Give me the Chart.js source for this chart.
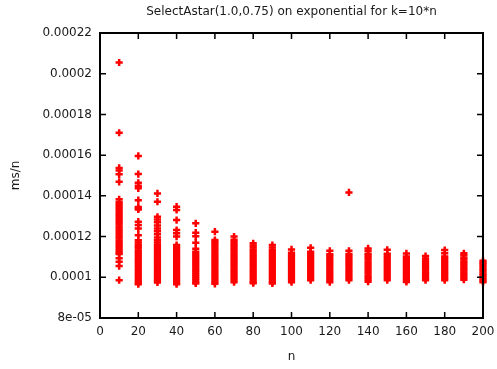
<!DOCTYPE html>
<html>
<head>
<meta charset="utf-8">
<script src="https://cdn.jsdelivr.net/npm/chart.js@4.4.1/dist/chart.umd.min.js"></script>
<style>
  body { margin: 0; background: #fff; }
  #wrap { width: 497px; height: 369px; }
</style>
</head>
<body>
<div id="wrap"><canvas id="myChart" width="497" height="369"></canvas></div>
<script>
// x positions of the measured columns
const nValues = [10, 20, 30, 40, 50, 60, 70, 80, 90, 100, 110, 120, 130, 140, 150, 160, 170, 180, 190, 200];

// ms/n readings, one list per n
const ms10 = [205.5e-6, 171.0e-6, 153.7e-6, 152.5e-6, 150.6e-6, 146.9e-6, 138.3e-6, 137.0e-6, 136.0e-6, 135.0e-6, 134.0e-6, 133.0e-6, 132.0e-6, 131.0e-6, 130.0e-6, 129.0e-6, 128.0e-6, 127.0e-6, 126.0e-6, 125.0e-6, 124.0e-6, 123.0e-6, 122.0e-6, 121.0e-6, 120.0e-6, 119.0e-6, 118.0e-6, 117.0e-6, 116.0e-6, 115.0e-6, 114.0e-6, 113.0e-6, 112.0e-6, 111.5e-6, 109.3e-6, 107.6e-6, 105.5e-6, 98.6e-6];
const ms20 = [159.6e-6, 150.7e-6, 146.4e-6, 145.0e-6, 143.7e-6, 137.9e-6, 134.5e-6, 133.9e-6, 133.3e-6, 127.3e-6, 125.7e-6, 124.0e-6, 120.7e-6, 118.2e-6, 117.1e-6, 116.0e-6, 115.0e-6, 114.1e-6, 113.0e-6, 112.0e-6, 111.1e-6, 110.0e-6, 109.0e-6, 108.0e-6, 107.1e-6, 106.0e-6, 105.0e-6, 104.0e-6, 103.0e-6, 102.0e-6, 101.0e-6, 100.0e-6, 99.0e-6, 98.0e-6, 97.2e-6, 96.6e-6];
const ms30 = [141.2e-6, 137.1e-6, 129.7e-6, 128.4e-6, 127.0e-6, 125.5e-6, 124.0e-6, 122.6e-6, 121.1e-6, 119.6e-6, 118.2e-6, 117.1e-6, 116.0e-6, 115.0e-6, 114.0e-6, 113.0e-6, 112.0e-6, 111.0e-6, 110.0e-6, 109.0e-6, 108.0e-6, 107.0e-6, 106.0e-6, 105.0e-6, 104.0e-6, 103.0e-6, 102.0e-6, 101.0e-6, 100.0e-6, 99.0e-6, 98.2e-6, 97.5e-6];
const ms40 = [134.7e-6, 133.1e-6, 128.1e-6, 123.2e-6, 121.6e-6, 120.0e-6, 115.8e-6, 115.0e-6, 114.0e-6, 113.0e-6, 112.0e-6, 111.0e-6, 110.0e-6, 109.0e-6, 108.0e-6, 107.0e-6, 106.0e-6, 105.0e-6, 104.0e-6, 103.0e-6, 102.0e-6, 101.0e-6, 100.0e-6, 99.0e-6, 98.0e-6, 97.2e-6, 96.6e-6];
const ms50 = [126.5e-6, 121.9e-6, 120.2e-6, 117.0e-6, 114.0e-6, 112.6e-6, 111.5e-6, 110.5e-6, 109.5e-6, 108.5e-6, 107.5e-6, 106.5e-6, 105.5e-6, 104.5e-6, 103.5e-6, 102.5e-6, 101.5e-6, 100.5e-6, 99.5e-6, 98.5e-6, 97.6e-6, 97.0e-6];
const ms60 = [122.4e-6, 118.3e-6, 117.4e-6, 116.5e-6, 115.5e-6, 114.5e-6, 113.5e-6, 112.5e-6, 111.5e-6, 110.5e-6, 109.5e-6, 108.5e-6, 107.5e-6, 106.5e-6, 105.5e-6, 104.5e-6, 103.5e-6, 102.5e-6, 101.5e-6, 100.5e-6, 99.5e-6, 98.5e-6, 97.6e-6, 96.8e-6];
const ms70 = [120.0e-6, 118.5e-6, 117.4e-6, 116.4e-6, 115.5e-6, 114.5e-6, 113.5e-6, 112.5e-6, 111.5e-6, 110.5e-6, 109.5e-6, 108.5e-6, 107.5e-6, 106.5e-6, 105.5e-6, 104.5e-6, 103.5e-6, 102.5e-6, 101.5e-6, 100.5e-6, 99.5e-6, 98.5e-6, 97.6e-6];
const ms80 = [116.7e-6, 115.6e-6, 114.6e-6, 113.5e-6, 112.5e-6, 111.5e-6, 110.5e-6, 109.5e-6, 108.5e-6, 107.5e-6, 106.5e-6, 105.5e-6, 104.5e-6, 103.5e-6, 102.5e-6, 101.5e-6, 100.5e-6, 99.5e-6, 98.5e-6, 97.6e-6, 97.1e-6];
const ms90 = [115.8e-6, 114.6e-6, 113.4e-6, 112.4e-6, 111.5e-6, 110.5e-6, 109.5e-6, 108.5e-6, 107.5e-6, 106.5e-6, 105.5e-6, 104.5e-6, 103.5e-6, 102.5e-6, 101.5e-6, 100.5e-6, 99.5e-6, 98.5e-6, 97.6e-6, 97.0e-6];
const ms100 = [113.7e-6, 112.1e-6, 111.1e-6, 110.2e-6, 109.3e-6, 108.4e-6, 107.5e-6, 106.6e-6, 105.7e-6, 104.8e-6, 103.9e-6, 103.0e-6, 102.1e-6, 101.2e-6, 100.3e-6, 99.4e-6, 98.5e-6, 97.6e-6];
const ms110 = [114.5e-6, 112.6e-6, 111.5e-6, 110.5e-6, 109.5e-6, 108.5e-6, 107.5e-6, 106.5e-6, 105.5e-6, 104.5e-6, 103.5e-6, 102.5e-6, 101.5e-6, 100.5e-6, 99.5e-6, 98.6e-6];
const ms120 = [113.0e-6, 111.3e-6, 110.4e-6, 109.5e-6, 108.5e-6, 107.5e-6, 106.5e-6, 105.5e-6, 104.5e-6, 103.5e-6, 102.5e-6, 101.5e-6, 100.5e-6, 99.5e-6, 98.5e-6, 97.6e-6];
const ms130 = [141.7e-6, 113.0e-6, 111.5e-6, 110.5e-6, 109.5e-6, 108.5e-6, 107.5e-6, 106.5e-6, 105.5e-6, 104.5e-6, 103.5e-6, 102.5e-6, 101.5e-6, 100.5e-6, 99.5e-6, 98.6e-6];
const ms140 = [114.2e-6, 113.0e-6, 111.6e-6, 110.8e-6, 109.8e-6, 108.8e-6, 107.8e-6, 106.8e-6, 105.8e-6, 104.8e-6, 103.8e-6, 102.8e-6, 101.8e-6, 100.8e-6, 99.8e-6, 98.8e-6, 97.8e-6];
const ms150 = [113.5e-6, 111.6e-6, 110.6e-6, 109.6e-6, 108.6e-6, 107.6e-6, 106.6e-6, 105.6e-6, 104.6e-6, 103.6e-6, 102.6e-6, 101.6e-6, 100.6e-6, 99.6e-6, 98.6e-6];
const ms160 = [111.7e-6, 110.2e-6, 109.3e-6, 108.4e-6, 107.5e-6, 106.6e-6, 105.7e-6, 104.8e-6, 103.9e-6, 103.0e-6, 102.1e-6, 101.2e-6, 100.3e-6, 99.4e-6, 98.5e-6, 97.7e-6];
const ms170 = [110.4e-6, 109.2e-6, 108.3e-6, 107.4e-6, 106.5e-6, 105.6e-6, 104.7e-6, 103.8e-6, 102.9e-6, 102.0e-6, 101.1e-6, 100.2e-6, 99.3e-6, 98.6e-6];
const ms180 = [113.4e-6, 111.8e-6, 110.2e-6, 109.3e-6, 108.4e-6, 107.5e-6, 106.6e-6, 105.7e-6, 104.8e-6, 103.9e-6, 103.0e-6, 102.1e-6, 101.2e-6, 100.3e-6, 99.4e-6, 98.6e-6];
const ms190 = [111.8e-6, 110.8e-6, 109.6e-6, 108.7e-6, 107.8e-6, 106.9e-6, 106.0e-6, 105.1e-6, 104.2e-6, 103.3e-6, 102.4e-6, 101.5e-6, 100.6e-6, 99.7e-6, 98.8e-6];
const ms200 = [108.1e-6, 107.3e-6, 106.4e-6, 105.5e-6, 104.6e-6, 103.7e-6, 102.8e-6, 101.9e-6, 101.0e-6, 100.1e-6, 99.2e-6, 98.3e-6, 97.6e-6];

const msPerN = [ms10, ms20, ms30, ms40, ms50, ms60, ms70, ms80, ms90, ms100,
                ms110, ms120, ms130, ms140, ms150, ms160, ms170, ms180, ms190, ms200];

// axis ticks
const xTickValues = [0, 20, 40, 60, 80, 100, 120, 140, 160, 180, 200];
const xTickLabels = ['0', '20', '40', '60', '80', '100', '120', '140', '160', '180', '200'];
const yTickValues = [8e-5, 1e-4, 1.2e-4, 1.4e-4, 1.6e-4, 1.8e-4, 2e-4, 2.2e-4];
const yTickLabels = ['8e-05', '0.0001', '0.00012', '0.00014', '0.00016', '0.00018', '0.0002', '0.00022'];

const points = [];
nValues.forEach((n, i) => {
  msPerN[i].forEach(v => points.push({ x: n, y: v }));
});

const textColor = '#1a1a1a';
const fontFamily = '"DejaVu Sans", sans-serif';

// gnuplot style box with inward ticks on all sides
const gnuplotFrame = {
  id: 'gnuplotFrame',
  afterDatasetsDraw(chart) {
    const { ctx, chartArea: a, scales: { x, y } } = chart;
    const len = 6;
    ctx.save();
    ctx.strokeStyle = '#000';
    ctx.lineWidth = 1.5;
    ctx.beginPath();
    xTickValues.forEach(v => {
      const px = x.getPixelForValue(v);
      ctx.moveTo(px, a.bottom); ctx.lineTo(px, a.bottom - len);
      ctx.moveTo(px, a.top); ctx.lineTo(px, a.top + len);
    });
    yTickValues.forEach(v => {
      const py = y.getPixelForValue(v);
      ctx.moveTo(a.left, py); ctx.lineTo(a.left + len, py);
      ctx.moveTo(a.right, py); ctx.lineTo(a.right - len, py);
    });
    ctx.stroke();
    ctx.lineWidth = 2;
    ctx.strokeRect(a.left, a.top, a.right - a.left, a.bottom - a.top);
    ctx.restore();
  }
};

const ctx = document.getElementById('myChart');
new Chart(ctx, {
  type: 'scatter',
  data: {
    datasets: [{
      label: 'SelectAstar',
      data: points,
      pointStyle: 'cross',
      pointRadius: 3.6,
      pointHoverRadius: 3.6,
      borderColor: '#ff0000',
      backgroundColor: '#ff0000',
      borderWidth: 2.5,
      clip: false
    }]
  },
  options: {
    responsive: false,
    animation: false,
    events: [],
    layout: { padding: { top: 0, right: 14, bottom: 0, left: 0 } },
    plugins: {
      legend: { display: false },
      tooltip: { enabled: false },
      title: {
        display: true,
        fullSize: false,
        text: 'SelectAstar(1.0,0.75) on exponential for k=10*n',
        color: textColor,
        font: { family: fontFamily, size: 12, weight: 'normal', lineHeight: 1.2 },
        padding: { top: 5, bottom: 13.6 }
      }
    },
    scales: {
      x: {
        type: 'linear',
        min: 0,
        max: 200,
        afterBuildTicks: scale => { scale.ticks = xTickValues.map(v => ({ value: v })); },
        afterFit: scale => { scale.height = 51; scale.paddingLeft = 0; scale.paddingRight = 0; },
        grid: { display: false, drawTicks: false },
        border: { display: false },
        ticks: {
          color: textColor,
          font: { family: fontFamily, size: 12 },
          padding: 7,
          maxRotation: 0,
          callback: (v, i) => xTickLabels[i]
        },
        title: {
          display: true,
          text: 'n',
          color: textColor,
          font: { family: fontFamily, size: 12, lineHeight: 1.2 },
          padding: { top: 0, bottom: 5 }
        }
      },
      y: {
        type: 'linear',
        min: 8e-5,
        max: 2.2e-4,
        afterBuildTicks: scale => { scale.ticks = yTickValues.map(v => ({ value: v })); },
        afterFit: scale => { scale.width = 100; scale.paddingTop = 0; scale.paddingBottom = 0; },
        grid: { display: false, drawTicks: false },
        border: { display: false },
        ticks: {
          color: textColor,
          font: { family: fontFamily, size: 12 },
          padding: 8,
          callback: (v, i) => yTickLabels[i]
        },
        title: {
          display: true,
          text: 'ms/n',
          color: textColor,
          font: { family: fontFamily, size: 12, lineHeight: 1.2 },
          padding: { top: 9, bottom: 0 }
        }
      }
    }
  },
  plugins: [gnuplotFrame]
});
</script>
</body>
</html>
